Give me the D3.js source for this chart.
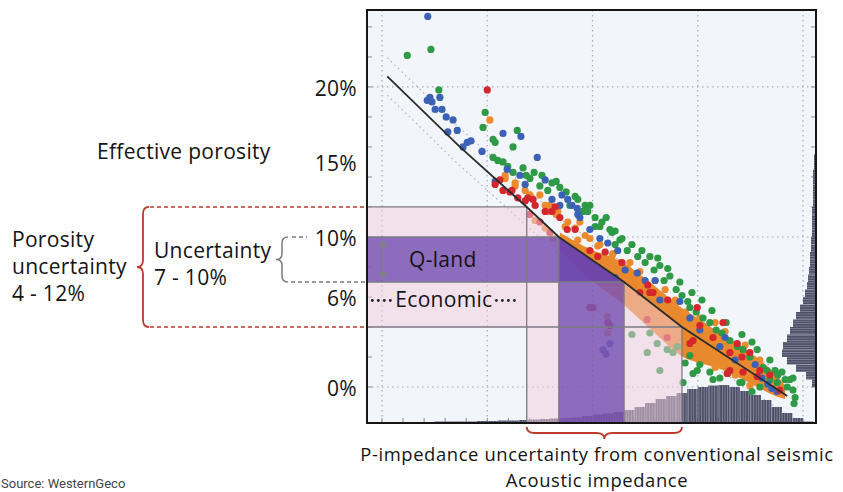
<!DOCTYPE html>
<html><head><meta charset="utf-8">
<script src="https://cdn.jsdelivr.net/npm/d3@7"></script>
<style>
html,body{margin:0;padding:0;background:#fff;}
svg{display:block;}
text{font-family:"Open Sans",Lato,sans-serif;fill:#141414;}
</style></head><body>
<svg id="chart" width="843" height="492"></svg>
<script>
// ---------- data ----------
const porosityTicks = [20, 15, 10, 6, 0];          // effective porosity, %
const gridImpedance = [4000, 6000, 8000, 10000, 12000];
const gridPorosity = [0, 10, 20];
const porosityUncertainty = [4, 12];               // conventional seismic
const qlandUncertainty = [7, 10];                  // Q-land

// porosity / acoustic impedance trend
const trendImpedance = [4100, 5480, 6750, 7360, 8600, 9700, 11700];
const trendPorosity  = [20.7, 16.0, 12, 10, 7, 4, -0.6];
const trendSpread = 1.25;

// dense core of the well-log cloud
const coreImpedance = [7380, 7950, 8330, 8620, 9090, 9720, 10040, 10420, 10800, 11180, 11470, 11660];
const coreTop       = [10.3, 9.2, 8.7, 8.2, 7.0, 5.2, 4.5, 3.6, 2.8, 1.8, 0.9, 0.1];
const coreBottom    = [9.2, 7.2, 6.2, 5.4, 3.9, 2.0, 1.6, 1.2, 0.6, -0.1, -0.6, -0.8];

// well samples [acoustic impedance, porosity %]
const orangePoints = [[6050,17.8],[6340,14.1],[6530,13.6],[6720,13.1],[7000,12.8],[7140,11.7],[7190,12.1],[7340,11.7],[7480,10.7],[7670,10.6],[7760,11.0],[7950,9.9],[8140,9.5],[8390,8.9],[8520,8.3],[8710,8.3],[8900,7.7],[9190,7.1],[9380,6.5],[9570,5.8],[9760,5.0],[10040,4.6],[10330,4.3],[10520,3.7],[10900,2.8],[11180,1.8],[11470,0.6],[7720,9.8],[7570,9.5],[7760,8.8],[8140,7.5],[8050,8.1],[8240,7.1],[7860,8.5],[10040,1.7],[10330,1.3],[10710,0.8],[10990,0.1],[8900,5.1],[9280,4.1],[9510,3.5],[8280,4.7],[8290,3.6],[6910,11.1],[7100,10.6],[7250,9.9],
  [6340,13.9],[6530,13.4],[6810,12.8],[7100,12.1],[7310,11.5],[7530,11.0],[7860,10.1],[8100,9.4],[8370,8.7],[8670,7.9],[8900,7.0],[9280,6.1],[9570,5.5],[9850,4.6],[10140,3.9],[10420,3.1],[10710,2.5],[10990,1.7],[11280,0.8]];
const greenPoints = [[4480,22.1],[4930,22.5],[5080,19.8],[5960,18.3],[5920,17.3],[6570,17.1],[6490,16.0],[6110,16.5],[6150,16.3],[6110,15.3],[6300,15.0],[6490,14.3],[6680,14.6],[7040,14.1],[7230,13.6],[6810,13.9],[7000,13.4],[7150,13.1],[7380,13.3],[7570,12.1],[7670,12.7],[7820,11.7],[7950,12.1],[8050,11.3],[8140,10.7],[8260,11.3],[8370,10.3],[8430,10.4],[8520,9.8],[7860,12.1],[8050,10.7],[8430,9.5],[8660,9.1],[8750,9.5],[8860,8.7],[9000,8.3],[9090,8.7],[9170,7.8],[9280,8.1],[9360,7.1],[9470,7.4],[9590,6.5],[9700,6.1],[9810,5.7],[9850,5.3],[9970,5.0],[10100,4.6],[10230,4.3],[10350,3.8],[10460,3.6],[10610,3.1],[10750,2.7],[10860,2.5],[10990,2.0],[11130,2.5],[11240,1.3],[11320,1.1],[11470,1.1],[11520,0.8],[11660,0.5],[11750,0.5],[11810,0.6],[11810,-0.2],[11850,-0.7],[11830,-1.1],[11700,0.0],[9720,0.3],[9910,0.9],[9280,1.1],[10230,1.0],[10570,0.9],[10840,0.3],[11180,0.0],[11510,0.3],[9990,1.1],[10290,0.5],[10800,0.3],[11370,0.5],[9040,2.3],[9420,2.5],[9530,2.3],[9760,1.6],[9850,2.1],[10040,1.5],[10420,0.6],[11030,-0.3],[8750,3.5],[9090,3.6],[9230,2.9],[9610,2.7],
  [6200,15.1],[6390,14.7],[6740,14.1],[6890,14.3],[7310,13.7],[7500,13.0],[7720,12.5],[7910,11.7],[8180,11.0],[8330,10.5],[8560,9.9],[8940,9.1],[9240,8.6],[9430,7.9],[9660,7.0],[9890,6.3],[10080,5.8],[10270,5.1],[10540,4.3],[10840,3.5],[11030,3.0],[11370,1.8],[11600,1.0]];
const bluePoints = [[4870,24.7],[4910,19.3],[4860,19.1],[4950,19.0],[5100,19.3],[5010,18.5],[5140,18.5],[5220,18.0],[5350,17.8],[5250,17.0],[5430,17.1],[5540,16.0],[5620,16.3],[5690,16.4],[5900,15.7],[6300,16.9],[6640,16.7],[6950,15.3],[6150,13.7],[6380,14.5],[7230,12.5],[7420,12.8],[7530,12.5],[7710,11.9],[8290,9.6],[7610,12.1],[7720,11.5],[7950,10.5],[8140,9.9],[8620,7.8],[8430,7.3],[8850,7.6],[9000,7.1],[9280,5.8],[10040,3.8],[10710,1.8],[11330,0.2],[11410,-0.1],[11510,-0.3],[11220,0.6],[8200,2.5],[8260,2.2],[8330,2.9],[7100,13.8],[6620,14.1],[9850,4.6],[10420,2.7],
  [6720,13.5],[7380,12.1],[7760,11.3],[8480,9.1],[9190,7.1],[9660,5.7],[10520,3.3],[11090,1.5]];
const redPoints = [[6000,19.8],[6150,13.5],[6300,13.1],[6430,13.0],[6580,12.6],[6720,12.4],[6910,12.1],[7100,11.7],[6240,13.8],[6870,12.5],[7290,12.0],[7380,11.3],[7520,10.5],[7950,9.1],[8100,8.7],[8900,6.3],[9150,6.3],[9850,2.9],[10290,3.3],[10560,0.9],[10860,1.0],[10610,2.3],[10480,4.3],[10750,2.9],[10990,2.3],[11130,0.7],[9040,4.5],[9420,3.3],[9910,3.1],[10610,1.1],[9090,6.3],[9990,5.3],[11370,0.8],[11560,-0.2],[8010,5.3],[8290,4.3],[7950,5.3],[8330,4.1],[6810,11.5],[7000,11.0],[7190,10.3],
  [6470,13.1],[6770,12.6],[7230,11.7],[7670,10.5],[8240,9.0],[8560,8.3],[9050,6.8],[9430,5.8],[10040,4.1],[10840,2.0],[11180,1.1]];

// acoustic impedance histogram (bins of 200 from 3800)
const aiBinStart = 3800, aiBinWidth = 200;
const aiCounts = [0,0,0,0,0,10,15,15,15,15,20,20,25,25,30,35,40,45,50,55,70,85,95,110,130,160,200,240,270,300,340,360,375,380,360,320,280,230,160,100,50,15];
// porosity histogram (bins of 0.5 % from -1)
const phiBinStart = -1, phiBinWidth = 0.5;
const phiCounts = [0,10,40,100,200,290,340,330,290,260,230,200,160,130,110,90,80,70,60,60,50,50,40,40,40,40,30,30,30,30,30,20,20,10,0,0,0,0,0,0];

// ---------- layout ----------
const svg = d3.select("#chart");
const plot = {left: 367, top: 10, right: 816, bottom: 423};
const x = d3.scaleLinear().domain([3715, 12247]).range([plot.left, plot.right]);
const y = d3.scaleLinear().domain([-2.4, 25.13]).range([plot.bottom, plot.top]);
const histH = d3.scaleLinear().domain([0, 400]).range([0, 40]);
const histW = d3.scaleLinear().domain([0, 400]).range([0, 40]);
const xMin = x.domain()[0], yMin = y.domain()[0];

// porosity -> impedance along the trend
const trendX = d3.scaleLinear().domain(trendPorosity).range(trendImpedance);
const path = d3.line().x(d => x(d[0])).y(d => y(d[1]));

function trendBetween(hi, lo) {
  const pts = [[trendX(hi), hi]];
  trendPorosity.forEach((p, i) => { if (p < hi && p > lo) pts.push([trendImpedance[i], p]); });
  pts.push([trendX(lo), lo]);
  return pts;
}

const defs = svg.append("defs");
defs.append("clipPath").attr("id", "plotClip").append("rect")
  .attr("x", plot.left).attr("y", plot.top)
  .attr("width", plot.right - plot.left).attr("height", plot.bottom - plot.top);
const pv = defs.append("pattern").attr("id", "stripeV").attr("patternUnits", "userSpaceOnUse")
  .attr("width", 2.6).attr("height", 10);
pv.append("rect").attr("width", 2.6).attr("height", 10).attr("fill", "#4e5068");
pv.append("rect").attr("x", 1.9).attr("width", 0.7).attr("height", 10).attr("fill", "#8f91a8");
const ph = defs.append("pattern").attr("id", "stripeH").attr("patternUnits", "userSpaceOnUse")
  .attr("width", 10).attr("height", 2.4);
ph.append("rect").attr("width", 10).attr("height", 2.4).attr("fill", "#4e5068");
ph.append("rect").attr("y", 1.8).attr("width", 10).attr("height", 0.6).attr("fill", "#8f91a8");

const g = svg.append("g").attr("clip-path", "url(#plotClip)");
g.append("rect").attr("x", plot.left).attr("y", plot.top)
  .attr("width", plot.right - plot.left).attr("height", plot.bottom - plot.top)
  .attr("fill", "#f2f5f9");

// dotted grid
const gridStyle = s => s.attr("stroke", "#a6aabb").attr("stroke-width", 1.2).attr("stroke-dasharray", "1.5,3.5");
g.selectAll(".gv").data(gridImpedance).join("line")
  .attr("x1", d => x(d)).attr("x2", d => x(d)).attr("y1", plot.top).attr("y2", plot.bottom).call(gridStyle);
g.selectAll(".gh").data(gridPorosity).join("line")
  .attr("y1", d => y(d)).attr("y2", d => y(d)).attr("x1", plot.left).attr("x2", plot.right).call(gridStyle);

// minor ticks on the frame
const tickStyle = s => s.attr("stroke", "#8a8a95").attr("stroke-width", 1);
g.selectAll(".tl").data(d3.range(0, 26, 2)).join("line")
  .attr("x1", plot.left).attr("x2", plot.left + 5).attr("y1", d => y(d)).attr("y2", d => y(d)).call(tickStyle);
g.selectAll(".tr").data(d3.range(0, 26, 2)).join("line")
  .attr("x1", plot.right - 5).attr("x2", plot.right).attr("y1", d => y(d)).attr("y2", d => y(d)).call(tickStyle);
g.selectAll(".tb").data(d3.range(4000, 12001, 400)).join("line")
  .attr("x1", d => x(d)).attr("x2", d => x(d)).attr("y1", plot.bottom - 5).attr("y2", plot.bottom).call(tickStyle);

// spread bounds of the trend
[trendSpread, -trendSpread].forEach(off => {
  g.append("path").attr("d", path(trendImpedance.map((ai, i) => [ai, trendPorosity[i] + off])))
    .attr("fill", "none").attr("stroke", "#b2b6c6").attr("stroke-width", 1.3).attr("stroke-dasharray", "1.5,3.5");
});

// histograms
g.selectAll(".ha").data(aiCounts).join("rect")
  .attr("x", (d, i) => x(aiBinStart + i * aiBinWidth))
  .attr("width", (d, i) => x(aiBinStart + (i + 1) * aiBinWidth) - x(aiBinStart + i * aiBinWidth))
  .attr("y", d => plot.bottom - histH(d)).attr("height", d => histH(d))
  .attr("fill", "url(#stripeV)");
g.selectAll(".hp").data(phiCounts).join("rect")
  .attr("y", (d, i) => y(phiBinStart + (i + 1) * phiBinWidth))
  .attr("height", (d, i) => y(phiBinStart + i * phiBinWidth) - y(phiBinStart + (i + 1) * phiBinWidth))
  .attr("x", d => plot.right - histW(d)).attr("width", d => histW(d))
  .attr("fill", "url(#stripeH)");

// dense core
const coreArea = d3.area().curve(d3.curveCatmullRom)
  .x((d, i) => x(coreImpedance[i])).y0((d, i) => y(coreBottom[i])).y1((d, i) => y(coreTop[i]));
g.append("path").attr("d", coreArea(coreImpedance)).attr("fill", "#e8892e");

// scatter
const series = [
  {pts: orangePoints, color: "#ec8a2c"},
  {pts: greenPoints, color: "#2e9a45"},
  {pts: bluePoints, color: "#3c62b6"},
  {pts: redPoints, color: "#d4262c"}
];
series.forEach(s => {
  g.append("g").selectAll("circle").data(s.pts).join("circle")
    .attr("cx", d => x(d[0])).attr("cy", d => y(d[1])).attr("r", 3.6).attr("fill", s.color);
});

// uncertainty overlays
const [pLo, pHi] = porosityUncertainty;
const pinkShape = [[xMin, pHi], ...trendBetween(pHi, pLo), [trendX(pLo), yMin], [trendX(pHi), yMin], [trendX(pHi), pLo], [xMin, pLo]];
g.append("path").attr("d", path(pinkShape) + "Z").attr("fill", "#f2cbdd").attr("opacity", 0.5);

const [qLo, qHi] = qlandUncertainty;
const qH = [[xMin, qHi], ...trendBetween(qHi, qLo), [xMin, qLo]];
const qV = [...trendBetween(qHi, qLo), [trendX(qLo), yMin], [trendX(qHi), yMin]];
[qH, qV].forEach(shape => {
  g.append("path").attr("d", path(shape) + "Z").attr("fill", "#653fab").attr("opacity", 0.72);
});

// band edges projected from the trend
[pHi, qHi, qLo, pLo].forEach(p => {
  g.append("path").attr("d", path([[xMin, p], [trendX(p), p], [trendX(p), yMin]]))
    .attr("fill", "none").attr("stroke", "#7b7b84").attr("stroke-width", 1.3);
});

// trend line
g.append("path").attr("d", path(trendImpedance.map((ai, i) => [ai, trendPorosity[i]])))
  .attr("fill", "none").attr("stroke", "#2b2b2b").attr("stroke-width", 1.8);

// Q-land arrow and band labels
const labelX = (plot.left + x(trendX(pHi))) / 2;
const arrowX = plot.left + 16;
const aTop = y(qHi) + 2, aBot = y(qLo) - 2;
g.append("line").attr("x1", arrowX).attr("x2", arrowX).attr("y1", aTop + 6).attr("y2", aBot - 6)
  .attr("stroke", "#80808a").attr("stroke-width", 1.6);
g.append("path").attr("d", `M${arrowX},${aTop} l-4.5,8 h9 Z M${arrowX},${aBot} l-4.5,-8 h9 Z`).attr("fill", "#80808a");
svg.append("text").attr("x", labelX - 4).attr("y", (y(qHi) + y(qLo)) / 2).attr("dy", "0.36em")
  .attr("text-anchor", "middle").attr("font-size", 21).attr("letter-spacing", 0.3).text("Q-land");
const econ = svg.append("text").attr("x", labelX - 3).attr("y", (y(qLo) + y(pLo)) / 2 - 5).attr("dy", "0.36em")
  .attr("text-anchor", "middle").attr("font-size", 21).attr("letter-spacing", 0.3).text("Economic");
const eb = econ.node().getBBox();
const dotY = (y(qLo) + y(pLo)) / 2 - 5 + 1;
[0, 1, 2, 3].forEach(k => {
  svg.append("circle").attr("cx", eb.x - 5 - k * 6).attr("cy", dotY).attr("r", 1.4).attr("fill", "#222");
  svg.append("circle").attr("cx", eb.x + eb.width + 4 + k * 6).attr("cy", dotY).attr("r", 1.4).attr("fill", "#222");
});

// frame
svg.append("rect").attr("x", plot.left).attr("y", plot.top)
  .attr("width", plot.right - plot.left).attr("height", plot.bottom - plot.top)
  .attr("fill", "none").attr("stroke", "#151515").attr("stroke-width", 2);

// porosity tick labels
svg.selectAll(".yl").data(porosityTicks).join("text")
  .attr("x", 357).attr("y", d => y(d)).attr("dy", "0.42em").attr("text-anchor", "end")
  .attr("font-size", 21).attr("letter-spacing", 0.3).text(d => d + "%");

// left annotations
const txt = (t, xx, yy) => svg.append("text").attr("x", xx).attr("y", yy)
  .attr("font-size", 21).attr("letter-spacing", 0.3).text(t);
txt("Effective porosity", 97, 159);
txt("Porosity", 12, 247);
txt("uncertainty", 12, 274);
txt("4 - 12%", 12, 301);
txt("Uncertainty", 154, 258);
txt("7 - 10%", 154, 285);

function vBrace(xe, xt, y1, y2, q) {
  const xs = (xe + xt) / 2, ym = (y1 + y2) / 2;
  return `M${xe},${y1} Q${xs},${y1} ${xs},${y1 + q} L${xs},${ym - q} Q${xs},${ym} ${xt},${ym} ` +
         `Q${xs},${ym} ${xs},${ym + q} L${xs},${y2 - q} Q${xs},${y2} ${xe},${y2}`;
}
const red = "#bd3a2c", grey = "#7a7a7a";
svg.append("path").attr("d", vBrace(149, 137, y(pHi), y(pLo), 7))
  .attr("fill", "none").attr("stroke", red).attr("stroke-width", 1.8);
[pHi, pLo].forEach(p => svg.append("line").attr("x1", 150).attr("x2", plot.left).attr("y1", y(p)).attr("y2", y(p))
  .attr("stroke", red).attr("stroke-width", 1.6).attr("stroke-dasharray", "4,3"));

svg.append("path").attr("d", vBrace(288, 276, y(qHi), y(qLo), 6))
  .attr("fill", "none").attr("stroke", grey).attr("stroke-width", 1.5);
svg.append("line").attr("x1", 292).attr("x2", 307).attr("y1", y(qHi)).attr("y2", y(qHi))
  .attr("stroke", grey).attr("stroke-width", 1.4).attr("stroke-dasharray", "4,3");
svg.append("line").attr("x1", 291).attr("x2", plot.left).attr("y1", y(qLo)).attr("y2", y(qLo))
  .attr("stroke", grey).attr("stroke-width", 1.4).attr("stroke-dasharray", "4,3");

// bottom brace over the impedance range of the porosity uncertainty
function hBrace(x1, x2, ye, yt, q) {
  const ys = (ye + yt) / 2, xm = (x1 + x2) / 2;
  return `M${x1},${ye} Q${x1},${ys} ${x1 + q},${ys} L${xm - q},${ys} Q${xm},${ys} ${xm},${yt} ` +
         `Q${xm},${ys} ${xm + q},${ys} L${x2 - q},${ys} Q${x2},${ys} ${x2},${ye}`;
}
svg.append("path").attr("d", hBrace(x(trendX(pHi)), x(trendX(pLo)), 427, 439, 8))
  .attr("fill", "none").attr("stroke", red).attr("stroke-width", 1.8);

svg.append("text").attr("x", 597).attr("y", 461).attr("text-anchor", "middle")
  .attr("font-size", 18.4).attr("letter-spacing", 0.6).text("P-impedance uncertainty from conventional seismic");
svg.append("text").attr("x", 597).attr("y", 487).attr("text-anchor", "middle")
  .attr("font-size", 18.4).attr("letter-spacing", 0.6).text("Acoustic impedance");

svg.append("text").attr("x", 1).attr("y", 488).attr("font-size", 13)
  .style("font-family", "Roboto, sans-serif").style("fill", "#444").text("Source: WesternGeco");
</script>
</body></html>
